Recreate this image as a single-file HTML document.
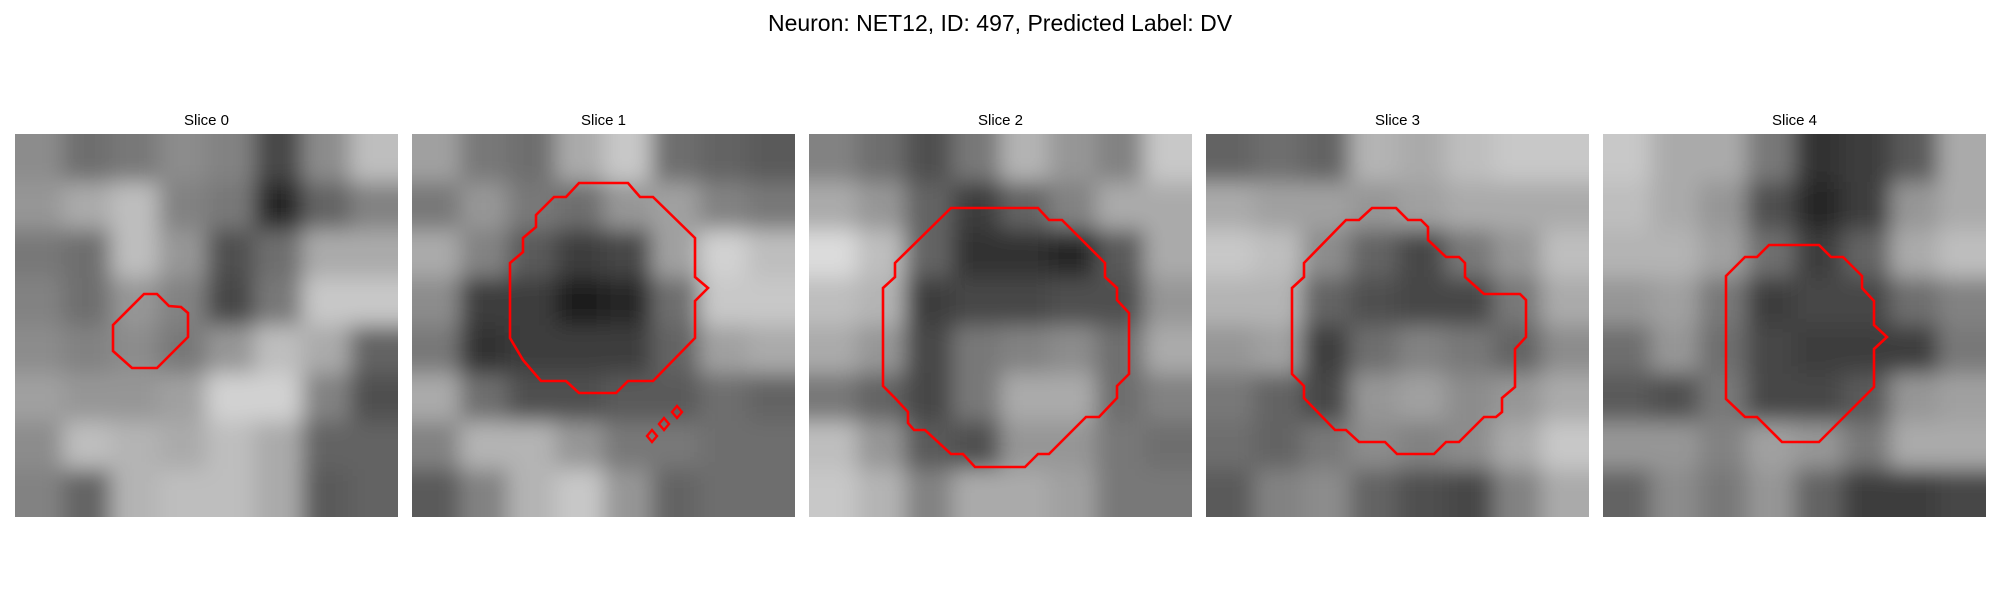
<!DOCTYPE html>
<html><head><meta charset="utf-8"><style>
html,body{margin:0;padding:0;background:#fff;}
svg{display:block;font-family:"Liberation Sans","DejaVu Sans",sans-serif;}
</style></head><body>
<svg id="fig" width="2000" height="600" viewBox="0 0 2000 600" xmlns="http://www.w3.org/2000/svg">
<defs>
<filter id="blur" filterUnits="userSpaceOnUse" x="-60" y="-60" width="503" height="503"><feGaussianBlur stdDeviation="11"/></filter>
<clipPath id="panelClip"><rect x="0" y="0" width="383" height="383"/></clipPath>
</defs>
<text x="1000" y="31" font-size="23" text-anchor="middle" fill="#000">Neuron: NET12, ID: 497, Predicted Label: DV</text>
<g id="panels"></g>
</svg>
<script>
const sliceTitles = ["Slice 0","Slice 1","Slice 2","Slice 3","Slice 4"];
const intensity0 = [[140,110,120,140,130,70,140,190],[150,170,190,130,120,40,100,130],[120,110,190,150,80,110,170,170],[130,110,150,130,70,120,200,200],[140,130,140,120,150,190,170,100],[160,150,150,160,210,210,130,80],[140,190,180,170,190,170,100,100],[130,100,180,190,190,170,90,100]];
const intensity1 = [[160,120,110,170,200,110,100,90],[120,150,120,110,150,160,130,120],[170,130,90,60,70,160,210,190],[140,60,60,30,40,110,200,200],[120,50,60,60,60,100,160,170],[170,110,80,80,90,90,110,100],[130,180,180,150,120,120,110,110],[90,130,180,200,150,100,110,110]];
const intensity2 = [[130,110,80,120,180,150,130,200],[170,150,100,60,100,130,170,170],[220,190,100,50,50,40,90,170],[190,180,60,70,70,80,80,150],[170,150,70,120,130,140,110,170],[120,100,70,120,170,170,110,130],[190,150,90,80,150,150,120,110],[200,180,130,170,170,160,120,120]];
const intensity3 = [[100,110,100,180,170,190,200,200],[170,160,160,150,160,170,170,170],[200,190,140,100,70,120,150,190],[180,180,100,80,70,70,120,170],[150,160,60,110,130,120,100,140],[120,100,70,150,160,140,150,170],[110,100,120,140,130,140,170,200],[90,130,140,100,80,70,130,170]];
const intensity4 = [[200,170,170,120,50,60,90,170],[190,170,150,80,40,60,150,170],[180,180,160,110,60,100,170,190],[150,160,120,60,70,70,110,130],[110,150,110,70,60,60,60,120],[90,80,120,70,70,90,150,160],[150,150,130,160,150,120,170,170],[100,140,120,150,100,60,60,70]];
const contour0 = [[98,191],[129,160],[142,160],[154,172],[166,173],[173,179],[173,203],[142,234],[117,234],[98,217]];
const contour1 = [[98,129],[111,118],[111,104],[124,93],[124,81],[142,63],[154,63],[167,49],[216,49],[228,63],[241,63],[283,104],[283,143],[296,154],[283,167],[283,204],[241,247],[216,247],[204,259],[167,259],[154,247],[129,247],[111,226],[98,204]];
const markers1 = [[265,278],[252,290],[240,302]];
const contour2 = [[74,154],[86,143],[86,129],[142,74],[229,74],[240,86],[253,86],[296,129],[296,143],[308,154],[308,166],[320,179],[320,240],[308,252],[308,264],[290,283],[277,283],[240,320],[229,320],[216,333],[166,333],[154,320],[142,320],[116,296],[105,296],[99,289],[99,278],[86,264],[74,252]];
const contour3 = [[86,154],[98,143],[98,129],[140,86],[153,86],[166,74],[190,74],[202,86],[215,86],[222,93],[222,106],[240,123],[253,123],[259,129],[259,143],[278,160],[314,160],[320,166],[320,203],[309,215],[309,253],[296,264],[296,278],[290,283],[278,283],[253,308],[240,308],[228,320],[191,320],[179,308],[153,308],[140,296],[129,296],[98,264],[98,252],[86,240]];
const contour4 = [[123,142],[142,123],[154,123],[166,111],[216,111],[228,123],[240,123],[259,142],[259,154],[271,167],[271,191],[284,203],[271,215],[271,253],[216,308],[179,308],[154,283],[142,283],[123,265]];
const intensities = [intensity0,intensity1,intensity2,intensity3,intensity4];
const contours = [contour0,contour1,contour2,contour3,contour4];

const NS = "http://www.w3.org/2000/svg";
const panelX0 = 15, panelY0 = 134, panelSize = 383, panelStep = 397, pad = 50;
const root = document.getElementById('panels');
function xPos(i){ return panelX0 + i*panelStep; }
intensities.forEach((grid, p) => {
  const g = document.createElementNS(NS,'g');
  
  
  g.setAttribute('transform', `translate(${xPos(p)},${panelY0})`);
  const t = document.createElementNS(NS,'text');
  
  
  t.setAttribute('x', panelSize/2); t.setAttribute('y', -9);
  t.setAttribute('font-size', '15'); t.setAttribute('text-anchor', 'middle');
  t.textContent = sliceTitles[p];
  g.appendChild(t);
  const clip = document.createElementNS(NS,'g');
  
  
  clip.setAttribute('clip-path', 'url(#panelClip)');
  const img = document.createElementNS(NS,'g');
  
  
  img.setAttribute('filter', 'url(#blur)');
  const n = grid.length, cs = panelSize / n;
  grid.forEach((row, r) => row.forEach((v, c) => {
    const rc = document.createElementNS(NS,'rect');
    
    
    let x0 = c*cs, y0 = r*cs, x1 = x0+cs+0.5, y1 = y0+cs+0.5;
    if (c === 0) x0 -= pad;
    if (r === 0) y0 -= pad;
    if (c === n-1) x1 += pad;
    if (r === n-1) y1 += pad;
    rc.setAttribute('x', x0); rc.setAttribute('y', y0);
    rc.setAttribute('width', x1-x0); rc.setAttribute('height', y1-y0);
    rc.setAttribute('fill', `rgb(${v},${v},${v})`);
    img.appendChild(rc);
  }));
  clip.appendChild(img);
  g.appendChild(clip);
  const pl = document.createElementNS(NS,'polygon');
  
  
  pl.setAttribute('points', contours[p].map(q => q.join(',')).join(' '));
  pl.setAttribute('fill', 'none'); pl.setAttribute('stroke', '#ff0000');
  pl.setAttribute('stroke-width', '2.6'); pl.setAttribute('stroke-linejoin', 'miter');
  g.appendChild(pl);
  if (p === 1) {
    markers1.forEach(m => {
      const d = document.createElementNS(NS,'polygon');
      
      
      d.setAttribute('points', `${m[0]},${m[1]-6} ${m[0]+5},${m[1]} ${m[0]},${m[1]+6} ${m[0]-5},${m[1]}`);
      d.setAttribute('fill', 'none'); d.setAttribute('stroke', '#ff0000'); d.setAttribute('stroke-width', '2.4');
      g.appendChild(d);
    });
  }
  root.appendChild(g);
});
</script>
</body></html>
